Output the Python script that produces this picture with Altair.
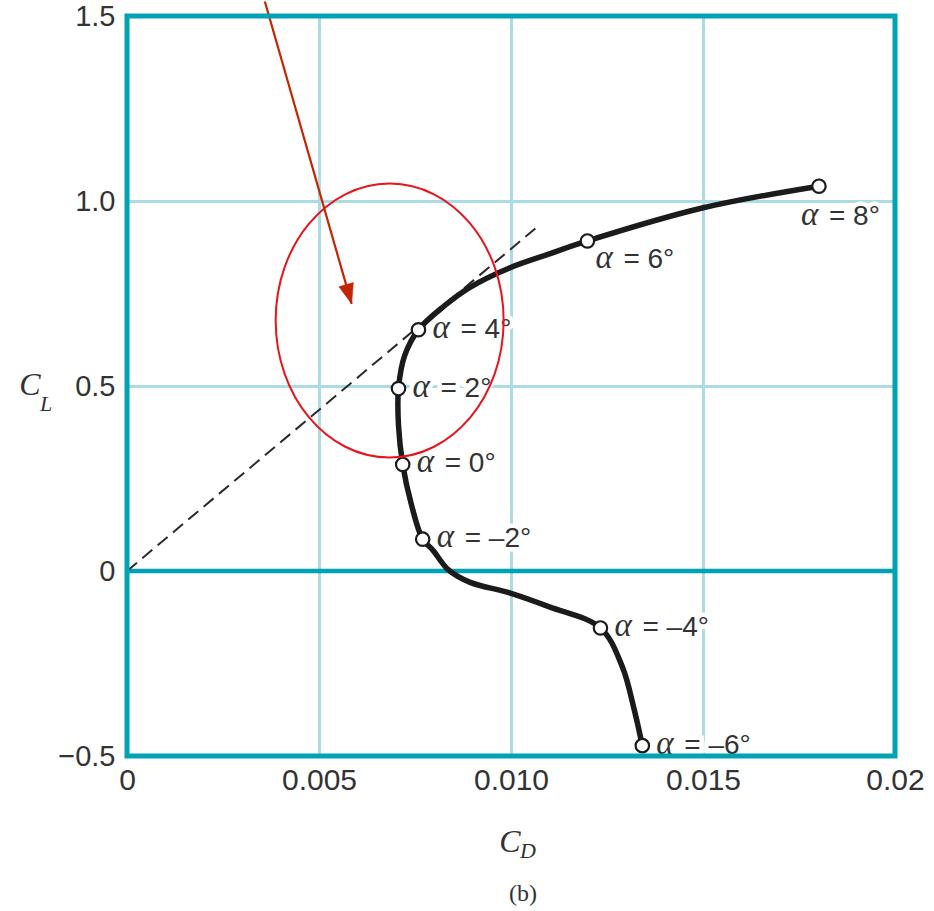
import altair as alt
import pandas as pd

# Drag polar: marked angles of attack (degrees) and their coefficients
alpha_deg = [8, 6, 4, 2, 0, -2, -4, -6]
cd_marked = [0.01802, 0.01199, 0.00759, 0.00707, 0.00718, 0.00770, 0.01233, 0.01342]
cl_marked = [1.040, 0.892, 0.652, 0.493, 0.288, 0.086, -0.154, -0.472]

# Points traced along the smooth polar, from alpha = -6 deg up to alpha = 8 deg
cd_curve = [0.01342, 0.01321, 0.01290, 0.01233, 0.01100, 0.00996, 0.00892, 0.00837,
            0.00796, 0.00770, 0.00741, 0.00718, 0.00707, 0.00707, 0.00723, 0.00759,
            0.00827, 0.00892, 0.00996, 0.01100, 0.01199, 0.01498, 0.01802]
cl_curve = [-0.472, -0.375, -0.259, -0.154, -0.097, -0.059, -0.030, 0.003,
            0.057, 0.086, 0.178, 0.288, 0.394, 0.493, 0.582, 0.652,
            0.717, 0.766, 0.819, 0.857, 0.892, 0.981, 1.040]

# Tangent from the origin (max lift-to-drag ratio)
tangent_cd = [0.0, 0.01074]
tangent_cl = [0.0, 0.935]

# Highlight: ring around the tangent point and a pointer arrow
ring_cd = [0.00684]
ring_cl = [0.677]
arrow_cd = [0.00359, 0.00585]
arrow_cl = [1.539, 0.722]

x_ticks = [0, 0.005, 0.010, 0.015, 0.02]
y_ticks = [-0.5, 0, 0.5, 1.0, 1.5]

W, H = 768, 740
TEAL = "#00A2B3"
GRID = "#A9DCE4"
INK = "#1b1b1b"
TXT = "#333333"
SANS = "Liberation Sans"
SERIF = "Liberation Serif"


def dash_label(a):
    return f"= {a}°" if a >= 0 else f"= –{abs(a)}°"


marked = pd.DataFrame({
    "alpha": alpha_deg,
    "cd": cd_marked,
    "cl": cl_marked,
    "rest": [dash_label(a) for a in alpha_deg],
    "greek": ["α"] * len(alpha_deg),
})
curve = pd.DataFrame({"cd": cd_curve, "cl": cl_curve, "idx": list(range(len(cd_curve)))})
tangent = pd.DataFrame({"cd": tangent_cd, "cl": tangent_cl})
ring = pd.DataFrame({"cd": ring_cd, "cl": ring_cl})
arrow = pd.DataFrame({"cd": arrow_cd, "cl": arrow_cl, "idx": [0, 1]})
arrow_tip = arrow.iloc[[1]]

x_enc = alt.X(
    "cd:Q",
    scale=alt.Scale(domain=[0, 0.02], nice=False, zero=False),
    axis=alt.Axis(
        values=x_ticks, title=None, domain=False, ticks=False, grid=True,
        gridColor=GRID, gridWidth=3, labelFont=SANS, labelFontSize=30,
        labelColor=TXT, labelPadding=9, labelFlush=False, labelOverlap=False,
        labelExpr="datum.value == 0 ? '0' : (abs(datum.value - 0.02) < 1e-9 ? '0.02' : format(datum.value, '.3f'))",
    ),
)
y_enc = alt.Y(
    "cl:Q",
    scale=alt.Scale(domain=[-0.5, 1.5], nice=False, zero=False),
    axis=alt.Axis(
        values=y_ticks, title=None, domain=False, ticks=False, grid=True,
        gridColor=GRID, gridWidth=3, labelFont=SANS, labelFontSize=29,
        labelColor=TXT, labelPadding=12, labelFlush=False, labelOverlap=False,
        labelExpr="datum.value == 0 ? '0' : replace(format(datum.value, '.1f'), '-', '–')",
    ),
)

zero_line = alt.Chart(pd.DataFrame({"cl": [0.0]})).mark_rule(
    color=TEAL, strokeWidth=4.5
).encode(y=y_enc)

tangent_line = alt.Chart(tangent).mark_line(
    color="#2a2a2a", strokeWidth=2, strokeDash=[13, 7]
).encode(x=x_enc, y=y_enc)

polar = alt.Chart(curve).mark_line(
    color=INK, strokeWidth=5.5, interpolate="catmull-rom", strokeCap="round"
).encode(x=x_enc, y=y_enc, order="idx:Q")


def label_layers(df_filter, dx, dy):
    base = alt.Chart(marked).transform_filter(df_filter)
    enc = dict(x=x_enc, y=y_enc)
    halo_g = base.mark_text(
        font=SERIF, fontStyle="italic", fontSize=33, align="left", baseline="middle",
        dx=dx, dy=dy - 2, stroke="white", strokeWidth=9, color="white",
    ).encode(text="greek:N", **enc)
    halo_r = base.mark_text(
        font=SANS, fontSize=28, align="left", baseline="middle",
        dx=dx + 28, dy=dy, stroke="white", strokeWidth=9, color="white",
    ).encode(text="rest:N", **enc)
    greek = base.mark_text(
        font=SERIF, fontStyle="italic", fontSize=33, align="left", baseline="middle",
        dx=dx, dy=dy - 2, color=TXT,
    ).encode(text="greek:N", **enc)
    rest = base.mark_text(
        font=SANS, fontSize=28, align="left", baseline="middle",
        dx=dx + 28, dy=dy, color=TXT,
    ).encode(text="rest:N", **enc)
    return [halo_g, halo_r], [greek, rest]


h1, t1 = label_layers("datum.alpha <= 4", 14, 0)
h2, t2 = label_layers("datum.alpha == 6", 8, 19)
h3, t3 = label_layers("datum.alpha == 8", -18, 31)

points = alt.Chart(marked).mark_point(
    shape="circle", filled=True, fill="white", stroke=INK, strokeWidth=2.2,
    size=180, opacity=1,
).encode(x=x_enc, y=y_enc)

ring_mark = alt.Chart(ring).mark_point(
    shape="M -0.832 0 A 0.832 1 0 1 1 0.832 0 A 0.832 1 0 1 1 -0.832 0 Z",
    filled=False, stroke="#E8141B", strokeWidth=2, size=274 * 274, opacity=1,
).encode(x=x_enc, y=y_enc)

arrow_shaft = alt.Chart(arrow).mark_line(
    color="#C42400", strokeWidth=2.2
).encode(x=x_enc, y=y_enc, order="idx:Q")

arrow_head = alt.Chart(arrow_tip).mark_point(
    shape="M 0 0 L -0.75 -2 L 0.75 -2 Z", filled=True, fill="#C42400",
    stroke="#C42400", strokeWidth=0.5, size=400, angle=344, opacity=1,
).encode(x=x_enc, y=y_enc)

# Heavy teal frame around the plotting area, drawn over the grid
frame = alt.Chart(pd.DataFrame({"k": [0]})).mark_rect(
    fill=None, stroke=TEAL, strokeWidth=5, fillOpacity=0
).encode(x=alt.value(0), x2=alt.value(W), y=alt.value(0), y2=alt.value(H))


def free_text(txt, x, y, size, font, style="normal"):
    return alt.Chart(pd.DataFrame({"t": [txt]})).mark_text(
        text=txt, font=font, fontStyle=style, fontSize=size, color=TXT,
        align="center", baseline="middle",
    ).encode(x=alt.value(x), y=alt.value(y))


titles = [
    free_text("C", -97, 369, 32, SERIF, "italic"),
    free_text("L", -81, 388, 22, SERIF, "italic"),
    free_text("C", 383, 826, 32, SERIF, "italic"),
    free_text("D", 401, 835, 22, SERIF, "italic"),
    free_text("(b)", 396, 878, 24, SERIF),
]

chart = alt.layer(
    zero_line, tangent_line, polar,
    *h1, *h2, *h3, *t1, *t2, *t3,
    points, ring_mark, arrow_shaft, arrow_head, frame,
    *titles,
).properties(
    width=W, height=H,
    autosize=alt.AutoSizeParams(type="none"),
    padding={"left": 127, "top": 16, "right": 39, "bottom": 155},
    background="white",
).configure_view(
    stroke=None,
)

chart.save("out.html", embed_options={"renderer": "svg", "actions": False})
